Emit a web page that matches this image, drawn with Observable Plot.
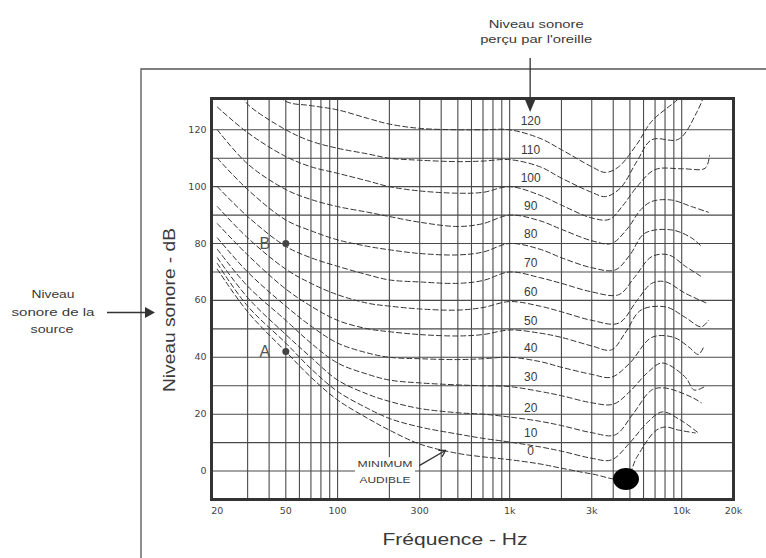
<!DOCTYPE html>
<html><head><meta charset="utf-8">
<script src="https://cdn.jsdelivr.net/npm/d3@7"></script>
<script src="https://cdn.jsdelivr.net/npm/@observablehq/plot@0.6"></script>
<style>
html,body{margin:0;padding:0;background:#fff;}
#chart{width:766px;height:558px;overflow:hidden;}
</style></head><body><div id="chart"></div>
<script>
// Equal-loudness contours: [frequency Hz, sound level dB]
const c120 = [[40,136],[50,130],[70,128.5],[100,127],[150,124],[200,122],[300,120.5],[500,120],[700,120],[1000,120],[1500,117],[2000,113],[3000,107],[3600,105],[4300,107],[5500,115],[6700,123],[9600,131],[10500,134]];
const c110 = [[28,132],[30,129],[50,120],[70,116],[100,113.5],[150,111.5],[200,110],[300,109.3],[500,108.8],[700,109],[1000,109.5],[1500,107],[2000,103],[3000,98],[3600,96.5],[4400,99.5],[5500,109],[6700,116.5],[9600,116.7],[12200,126],[13500,132]];
const c100 = [[20,128],[30,119],[50,110.6],[70,107],[100,104.7],[150,102],[200,100],[300,98.5],[500,97.7],[700,98],[1000,100],[1500,97],[2000,93.5],[3000,89],[3800,88.5],[4500,93],[5500,100],[7000,106],[10000,106.3],[13700,106.5],[14500,111]];
const c90 = [[20,120],[30,108],[50,99],[70,95.5],[100,93],[150,91],[200,89.5],[300,87.5],[500,86],[700,87],[1000,90],[1500,88],[2000,85],[3000,81],[3900,80],[4800,85],[5800,92],[6700,94.8],[8700,95.3],[11400,93],[14300,91]];
const c80 = [[20,110],[30,99],[50,88.3],[70,84.5],[100,81.3],[150,79],[200,77.8],[300,76.5],[500,76],[700,77],[1000,80],[1500,78],[2000,75],[3000,71.5],[4100,70.7],[5000,76],[6100,83.6],[8700,84.8],[11400,82],[13000,79]];
const c70 = [[20,100],[30,89.5],[50,79],[70,75],[100,72],[150,69],[200,67.2],[300,66.5],[500,66],[700,67],[1000,70],[1500,68],[2000,66],[3000,63],[4300,62],[5300,68],[6700,75.4],[8400,76],[10500,72],[13000,68.4]];
const c60 = [[20,93],[30,82],[50,71],[70,66],[100,62],[150,59],[200,58],[300,57],[500,56.6],[700,57.5],[1000,59.6],[1500,58],[2000,56],[3000,53],[4300,52],[5500,60],[6700,66],[8000,66.6],[10500,62.5],[14000,59]];
const c50 = [[20,87],[30,76],[50,64],[70,58],[100,53],[150,50],[200,49],[300,48],[500,47.5],[700,48],[1000,49.6],[1500,48.5],[2000,47],[3000,44],[3900,42.6],[4700,48.6],[5800,56.6],[8100,57.7],[10500,54],[13000,50.7],[14300,53]];
const c40 = [[20,82],[30,70],[50,58],[70,51],[100,45],[150,41.5],[200,40],[300,39.5],[500,39.2],[700,39.5],[1000,40],[1500,38.5],[2000,36.5],[3000,34],[3900,33],[5000,38],[6700,47],[9000,47],[11000,43.6],[12500,41],[13500,44]];
const c30 = [[20,78],[30,65],[50,53],[70,45],[100,38],[150,34],[200,32],[300,31],[500,30.3],[700,30],[1000,29.7],[1500,28],[2000,26.5],[3000,24],[4000,23.5],[5000,28],[6300,34.5],[7700,38],[10500,33],[11800,28.5],[13500,29.6]];
const c20 = [[20,75],[30,61],[50,48],[70,40],[100,32],[150,27],[200,24.5],[300,22],[500,20.5],[700,20],[1000,19],[1500,17.5],[2000,16],[3000,13.5],[4100,12.7],[5200,20],[6700,28.5],[8000,29.2],[11400,26],[13000,24]];
const c10 = [[20,73],[30,58],[50,45],[70,36],[100,28],[150,22],[200,18.5],[300,15.5],[500,13],[700,11.5],[1000,10.2],[1500,8.5],[2000,7],[3000,4.5],[3900,3.9],[5000,10],[6300,17],[7700,20.8],[9800,18],[12500,13.4]];
const c0 = [[20,71],[30,56],[50,42],[70,33],[100,25],[150,18.5],[200,14.4],[300,9.5],[500,6.2],[700,5],[1000,4],[1500,2.5],[2000,1],[3000,-1],[4700,-2.6],[5500,5],[7000,14],[8000,15.5],[9600,14.4],[12000,13.4]];

const levels = [120,110,100,90,80,70,60,50,40,30,20,10,0];
const curves = [c120,c110,c100,c90,c80,c70,c60,c50,c40,c30,c20,c10,c0];

const freqTicks = [20,50,100,300,1000,3000,10000,20000];
const freqTickLabels = ["20","50","100","300","1k","3k","10k","20k"];
const dbTicks = [0,20,40,60,80,100,120];
const gridFreqs = [30,40,50,60,70,80,90,100,200,300,400,500,600,700,800,900,1000,2000,3000,4000,5000,6000,7000,8000,9000,10000];
const gridDb = [0,10,20,30,40,50,60,70,80,90,100,110,120];

const pointNames = ["A","B"];
const pointFreqs = [50,50];
const pointDb = [42,80];

const minLines = ["MINIMUM","AUDIBLE"];
const minTextF = 190, minTextDb = [1.2,-4.2];
const minArrow = [{x1:300, y1:2, x2:425, y2:7.3}];
const blobF = 4775, blobDb = -3;

const rows = curves.flatMap((c,i)=>c.map(([f,db])=>({level:levels[i], f, db})));
const labelRows = curves.map((c,i)=>{const p=c.find(d=>d[0]===1000); return {f:p[0], db:p[1], label:String(levels[i])};});
const pts = pointNames.map((n,i)=>({n, f:pointFreqs[i], db:pointDb[i]}));
const tickRows = freqTicks.map((f,i)=>({f, t:freqTickLabels[i]}));

const ink = "#3a3a3a";
const plot = Plot.plot({
  width:766, height:558,
  marginLeft:211, marginRight:33, marginTop:98, marginBottom:59,
  style:{fontFamily:"DejaVu Sans", fontSize:"9.5px", color:"#444", background:"#fff", overflow:"visible"},
  x:{type:"log", domain:[18.5,20000], axis:null},
  y:{domain:[-10,131]},
  marks:[
    Plot.ruleX(gridFreqs, {stroke:"#4a4a4a", strokeWidth:1.1}),
    Plot.ruleY(gridDb, {stroke:"#4a4a4a", strokeWidth:1.1}),
    Plot.line(rows, {x:"f", y:"db", z:"level", stroke:"#333", strokeWidth:1, strokeDasharray:"5,3", curve:"catmull-rom", clip:true}),
    Plot.arrow(minArrow, {x1:"x1", y1:"y1", x2:"x2", y2:"y2", stroke:"#333", strokeWidth:1.3, headLength:8}),
    Plot.text(labelRows, {x:"f", y:"db", text:"label", dx:21, dy:-9, fontSize:12, fill:ink, fontFamily:"Liberation Sans"}),
    Plot.dot(pts, {x:"f", y:"db", r:3.5, fill:"#444"}),
    Plot.text(pts, {x:"f", y:"db", text:"n", dx:-21, fontSize:16, fill:"#555", fontFamily:"Liberation Sans"}),
    Plot.frame({stroke:"#333", strokeWidth:3}),
    Plot.text(tickRows, {x:"f", text:"t", frameAnchor:"bottom", dy:14, fontSize:9.5, fill:"#444", fontFamily:"DejaVu Sans"}),
    Plot.axisY({ticks:dbTicks, tickSize:0, tickPadding:5, label:null})
  ]
});
document.getElementById("chart").append(plot);

const svg = d3.select(plot);
const xs = plot.scale("x"), ys = plot.scale("y");
const ax = xs.apply(1000) + 21;
// outer frame
svg.insert("path", ":first-child").attr("d","M141,558V69H766").attr("fill","none").attr("stroke","#555").attr("stroke-width",1.3);
function stext(x, y, s, size, len, rot, weight){
  const t = svg.append("text").attr("x",x).attr("y",y).attr("text-anchor","middle")
    .attr("font-family","Liberation Sans, Arial, sans-serif").attr("font-size",size).attr("fill",ink)
    .attr("textLength",len).attr("lengthAdjust","spacingAndGlyphs").text(s);
  if (rot) t.attr("transform",`rotate(-90 ${x} ${y})`);
  if (weight) t.attr("font-weight",weight);
  return t;
}
// minimum audible label with white backing
const mx = xs.apply(minTextF);
svg.append("rect").attr("x",mx-30).attr("y",ys.apply(minTextDb[0])-10).attr("width",60).attr("height",26).attr("fill","#fff");
minLines.forEach((s,i)=>stext(mx, ys.apply(minTextDb[i]), s, 9, i?51:55, false));
// black blob
svg.append("ellipse").attr("cx",xs.apply(blobF)).attr("cy",ys.apply(blobDb)).attr("rx",13).attr("ry",11).attr("fill","#000");
// top annotation + arrow
stext(ax+6, 28, "Niveau sonore", 11.5, 95);
stext(ax+6, 43, "perçu par l'oreille", 11.5, 112);
svg.append("line").attr("x1",ax).attr("x2",ax).attr("y1",58).attr("y2",101).attr("stroke","#333").attr("stroke-width",1.3);
svg.append("path").attr("d",`M${ax-5},100L${ax+5},100L${ax},112Z`).attr("fill","#333");
// left annotation + arrow
stext(53, 298, "Niveau", 11.5, 43);
stext(53, 316, "sonore de la", 11.5, 83);
stext(52, 333, "source", 11.5, 43);
svg.append("line").attr("x1",107).attr("x2",147).attr("y1",312.5).attr("y2",312.5).attr("stroke","#333").attr("stroke-width",1.3);
svg.append("path").attr("d","M145,307L155,312.5L145,318Z").attr("fill","#333");
// axis titles
stext(175, 310, "Niveau sonore - dB", 17, 164, true);
stext(455, 545, "Fréquence - Hz", 17, 145);
</script></body></html>
